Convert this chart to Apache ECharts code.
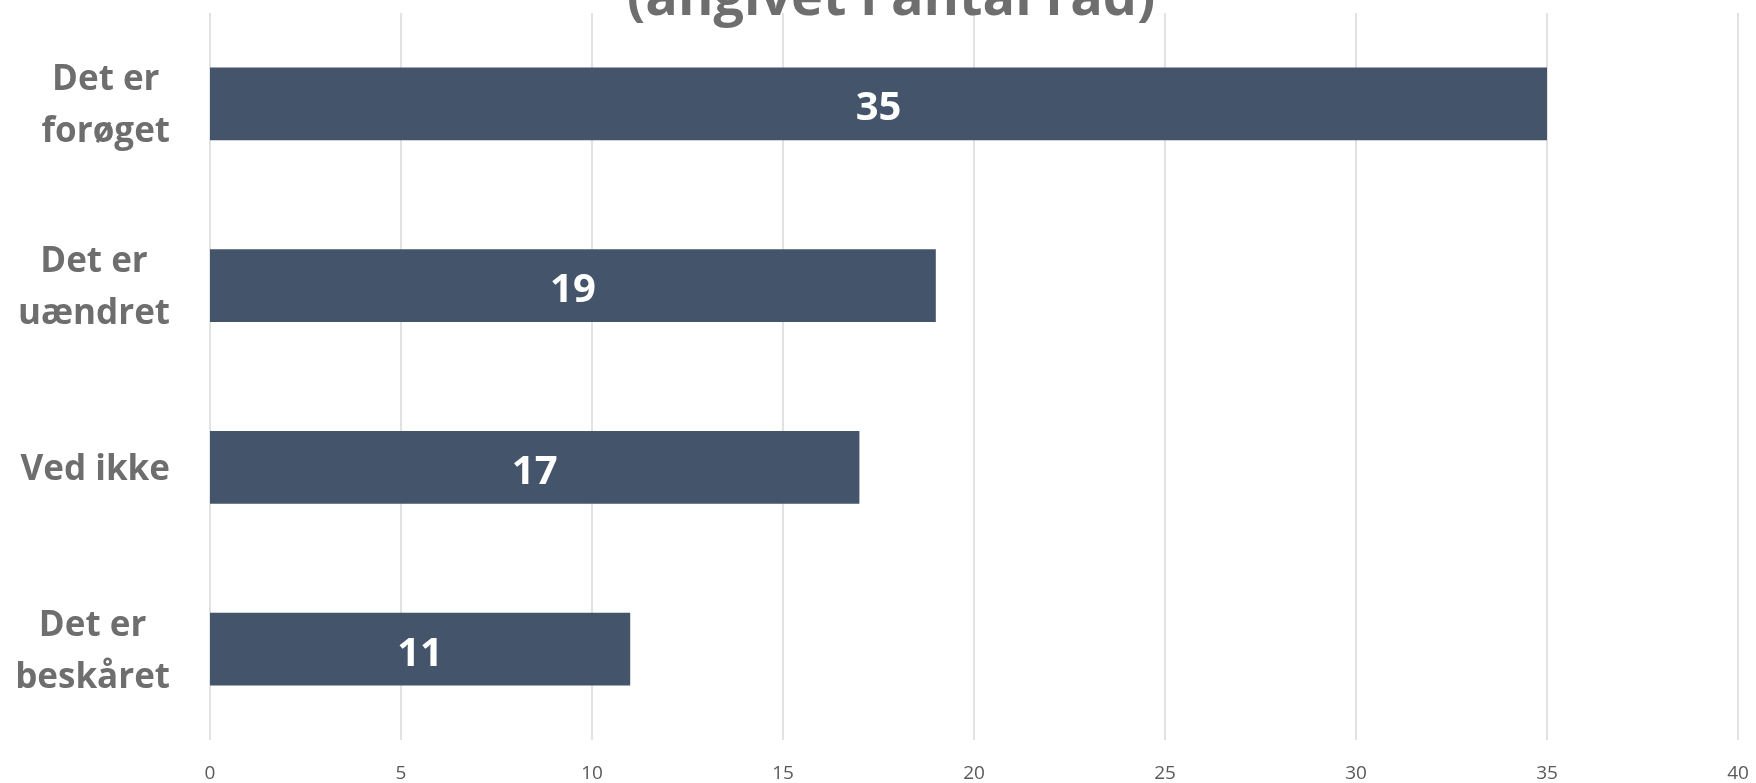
<!DOCTYPE html>
<html>
<head>
<meta charset="utf-8">
<script src="https://cdn.jsdelivr.net/npm/echarts@6/dist/echarts.min.js"></script>
<style>
  html, body { margin: 0; padding: 0; background: #fff; }
  #chart { width: 1756px; height: 783px; }
</style>
</head>
<body>
<div id="chart"></div>
<script>
// data (top to bottom)
var categories = ['Det er\nforøget', 'Det er\nuændret', 'Ved ikke', 'Det er\nbeskåret'];
var values = [35, 19, 17, 11];
var xTicks = [0, 5, 10, 15, 20, 25, 30, 35, 40];
var titleText = '(angivet i antal råd)';

var FONT = '"Open Sans", "Noto Sans", sans-serif';

var chart = echarts.init(document.getElementById('chart'));

var option = {
  backgroundColor: '#ffffff',
  animation: false,
  title: {
    text: titleText,
    left: 622,
    top: -32,
    textStyle: {
      fontFamily: FONT,
      fontSize: 54,
      fontWeight: 'bold',
      color: '#6e6e6e'
    }
  },
  grid: {
    left: 210,
    right: 18,
    top: 13,
    bottom: 40
  },
  xAxis: {
    type: 'value',
    min: xTicks[0],
    max: xTicks[xTicks.length - 1],
    interval: 5,
    axisLine: { show: false },
    axisTick: { show: false },
    splitLine: { lineStyle: { color: '#d9d9d9', width: 1.5 } },
    axisLabel: {
      margin: 24,
      fontFamily: FONT,
      fontSize: 19,
      color: '#595959'
    }
  },
  yAxis: {
    type: 'category',
    data: categories,
    inverse: true,
    axisLine: { show: false },
    axisTick: { show: false },
    axisLabel: {
      margin: 40,
      align: 'right',
      padding: [5, 0, 0, 0],
      formatter: function (v) {
        return v.split('\n').map(function (l) { return '{a|' + l + '}'; }).join('\n');
      },
      rich: {
        a: {
          align: 'center',
          fontFamily: FONT,
          fontSize: 35,
          fontWeight: 'bold',
          color: '#6e6e6e',
          lineHeight: 52
        }
      }
    }
  },
  series: [{
    type: 'bar',
    data: values,
    barCategoryGap: '60%',
    itemStyle: { color: '#44546a' },
    label: {
      show: true,
      position: 'inside',
      offset: [0, 5],
      fontFamily: FONT,
      fontSize: 40,
      fontWeight: 'bold',
      color: '#ffffff'
    }
  }]
};

chart.setOption(option);
</script>
</body>
</html>
